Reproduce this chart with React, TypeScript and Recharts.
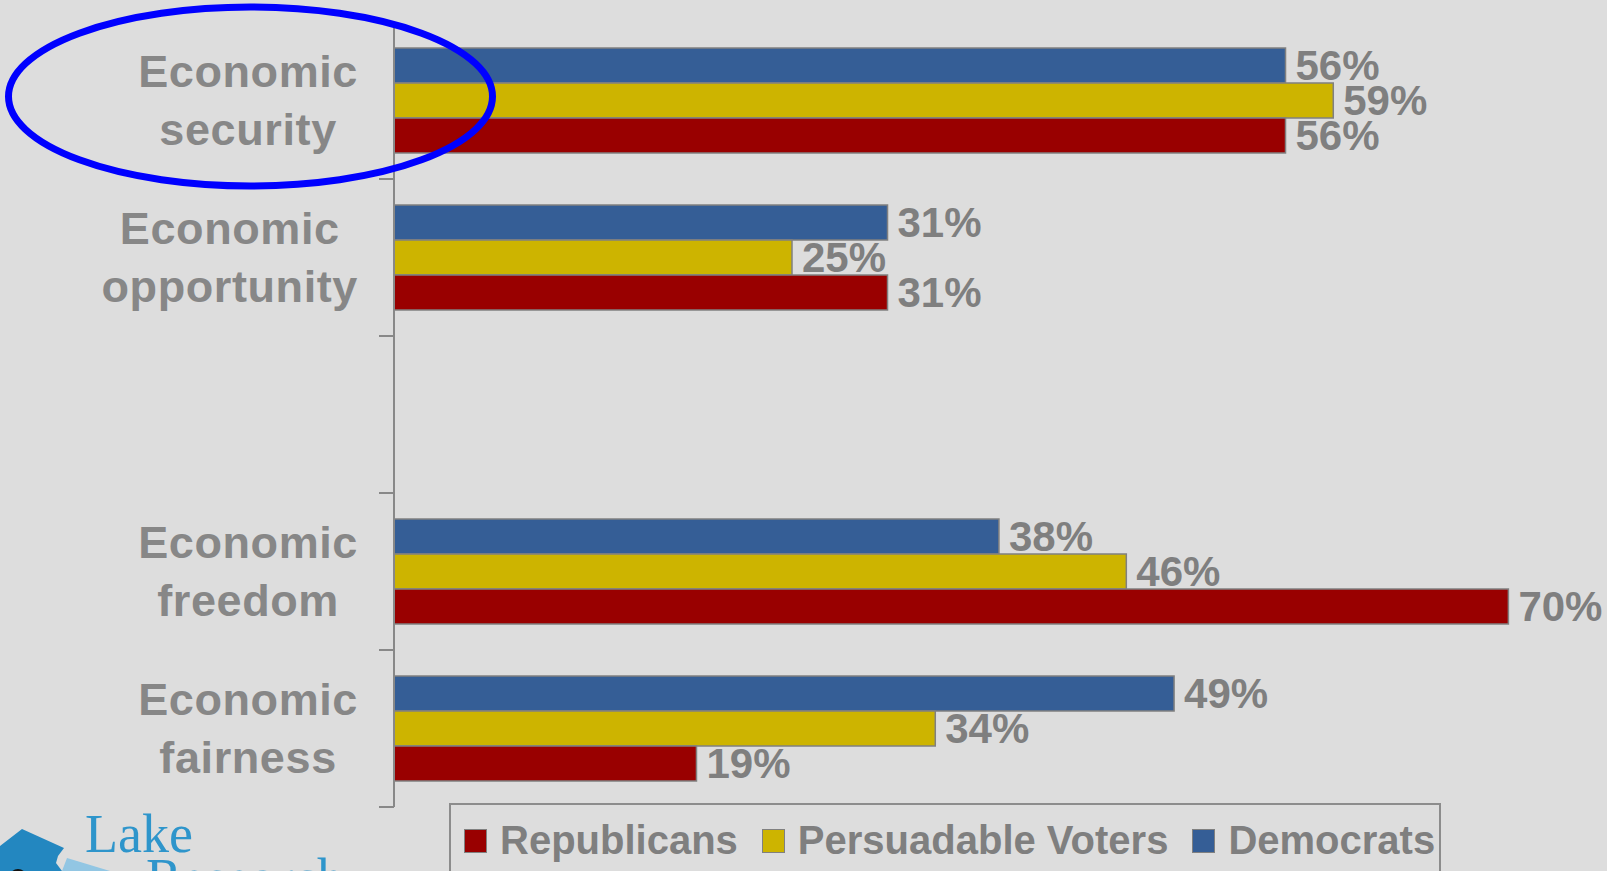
import React from "react";
import { Bar, BarChart, LabelList, Legend, XAxis, YAxis } from "recharts";

const categories = [
  "Economic security",
  "Economic opportunity",
  "",
  "Economic freedom",
  "Economic fairness",
];
const democrats = [56, 31, null, 38, 49];
const persuadable = [59, 25, null, 46, 34];
const republicans = [56, 31, null, 70, 19];

const data = categories.map((category, i) => ({
  category,
  democrats: democrats[i],
  persuadable: persuadable[i],
  republicans: republicans[i],
}));

const W = 1607;
const H = 871;
const MARGIN = { top: 22, right: 19, left: 0, bottom: 64 };
const AXIS_X = 394;
const BAND = (H - MARGIN.top - MARGIN.bottom) / categories.length;

const BG = "#dddddd";
const GRAY = "#7f7f7f";
const LABEL_GRAY = "#878787";
const LABEL_FONT = 'bold 45px "Liberation Sans"';
const LABEL_SPACING = 0.6;

let measureCtx: CanvasRenderingContext2D | null = null;
function textWidth(s: string) {
  if (!measureCtx) measureCtx = document.createElement("canvas").getContext("2d");
  if (!measureCtx) return s.length * 25;
  measureCtx.font = LABEL_FONT;
  return measureCtx.measureText(s).width + s.length * LABEL_SPACING;
}

// category labels: two lines, centred on each other, block pushed up to the axis
function CategoryTick(props: any) {
  const { y, payload } = props;
  const words = String(payload.value || "").split(" ").filter(Boolean);
  const widest = words.reduce((m, w) => Math.max(m, textWidth(w)), 0);
  const cx = 358 - widest / 2;
  return (
    <g>
      <line
        x1={AXIS_X - 15}
        x2={AXIS_X}
        y1={y + BAND / 2}
        y2={y + BAND / 2}
        stroke="#888888"
        strokeWidth={2}
      />
      {words.map((w, i) => (
        <text
          key={w}
          x={cx}
          y={y + (i === 0 ? -14 : 44)}
          textAnchor="middle"
          fill={LABEL_GRAY}
          fontFamily="Liberation Sans, Arial, sans-serif"
          fontWeight="bold"
          fontSize={45}
          letterSpacing={LABEL_SPACING}
        >
          {w}
        </text>
      ))}
    </g>
  );
}

function LegendBox(props: any) {
  const items = [...(props.payload || [])].reverse();
  return (
    <div
      style={{
        boxSizing: "border-box",
        width: 992,
        height: 90,
        border: "2px solid #8c8c8c",
        padding: "16px 0 0 13px",
        display: "flex",
        alignItems: "flex-start",
        whiteSpace: "nowrap",
        fontFamily: "Liberation Sans, Arial, sans-serif",
        fontWeight: "bold",
        fontSize: 40,
        lineHeight: "39px",
        color: GRAY,
        textAlign: "left",
      }}
    >
      {items.map((it: any) => (
        <div
          key={it.value}
          style={{
            display: "flex",
            alignItems: "center",
            marginRight: 24,
            flexShrink: 0,
            whiteSpace: "nowrap",
          }}
        >
          <span
            style={{
              display: "inline-block",
              boxSizing: "border-box",
              width: 23,
              height: 24,
              background: it.color,
              border: "1.5px solid #808080",
              marginRight: 13,
              flexShrink: 0,
            }}
          />
          <span style={{ whiteSpace: "nowrap" }}>{it.value}</span>
        </div>
      ))}
    </div>
  );
}

const pct = (v: any) => (v == null ? "" : `${v}%`);

export default function App() {
  const labelStyle = {
    fill: GRAY,
    fontFamily: "Liberation Sans, Arial, sans-serif",
    fontWeight: "bold",
    fontSize: 42,
  };
  return (
    <div
      style={{
        position: "absolute",
        left: 0,
        top: 0,
        width: W,
        height: H,
        background: BG,
        overflow: "hidden",
      }}
    >
      <BarChart
        width={W}
        height={H}
        data={data}
        layout="vertical"
        margin={MARGIN}
        barSize={35}
        barGap={0}
      >
        <XAxis type="number" domain={[0, 75]} hide />
        <YAxis
          type="category"
          dataKey="category"
          width={AXIS_X}
          axisLine={{ stroke: "#888888", strokeWidth: 2 }}
          tickLine={false}
          tick={<CategoryTick />}
          interval={0}
        />
        <Legend
          layout="horizontal"
          verticalAlign="middle"
          align="center"
          wrapperStyle={{ left: 449, top: 803, width: 992 }}
          content={<LegendBox />}
        />
        <Bar
          dataKey="democrats"
          name="Democrats"
          fill="#355e96"
          stroke="#808080"
          strokeWidth={1.5}
          isAnimationActive={false}
        >
          <LabelList dataKey="democrats" position="right" offset={10} formatter={pct} style={labelStyle} />
        </Bar>
        <Bar
          dataKey="persuadable"
          name="Persuadable Voters"
          fill="#cdb400"
          stroke="#808080"
          strokeWidth={1.5}
          isAnimationActive={false}
        >
          <LabelList dataKey="persuadable" position="right" offset={10} formatter={pct} style={labelStyle} />
        </Bar>
        <Bar
          dataKey="republicans"
          name="Republicans"
          fill="#990000"
          stroke="#808080"
          strokeWidth={1.5}
          isAnimationActive={false}
        >
          <LabelList dataKey="republicans" position="right" offset={10} formatter={pct} style={labelStyle} />
        </Bar>
      </BarChart>

      {/* annotation ellipse + logo drawn on top */}
      <svg
        width={W}
        height={H}
        style={{ position: "absolute", left: 0, top: 0, pointerEvents: "none" }}
      >
        <ellipse cx={250.5} cy={96.5} rx={242} ry={89.5} fill="none" stroke="#0000ff" strokeWidth={7} />
        <polygon points="0,846 22,829 64,848 58,856 56,863 62,871 0,871" fill="#2387c0" />
        <polygon points="67,858 110,871 62,871" fill="#92c6e3" />
        <circle cx={18} cy={878} r={9} fill="#111" />
        <text x={85} y={852} fill="#2e95cb" fontFamily="Liberation Serif, serif" fontSize={54}>
          Lake
        </text>
        <text x={146} y={896} fill="#2e95cb" fontFamily="Liberation Serif, serif" fontSize={54}>
          Research
        </text>
      </svg>
    </div>
  );
}
